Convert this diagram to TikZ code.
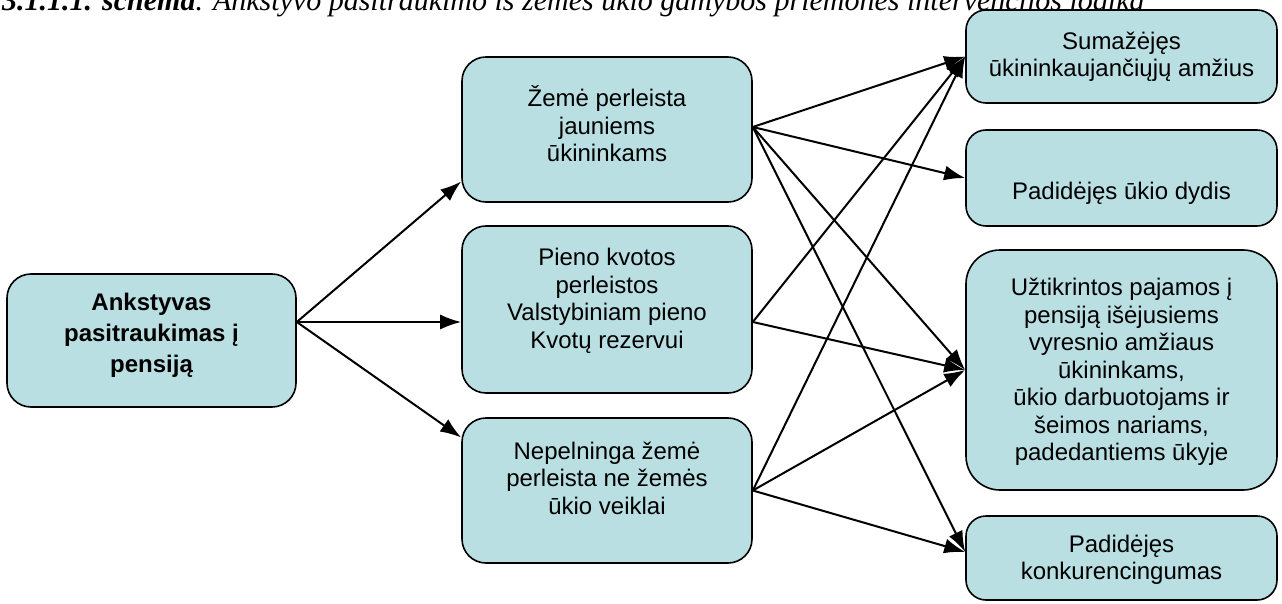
\documentclass[tikz,border=0pt]{standalone}
\usepackage{fontspec}
\setmainfont{Liberation Sans}
\newfontfamily\titlefont{Liberation Serif}
\usetikzlibrary{arrows.meta}
\definecolor{boxfill}{RGB}{185,223,227}
\begin{document}
\begin{tikzpicture}[x=1pt,y=-1pt,
  box/.style={draw=black,line width=1.6pt,fill=boxfill,rounded corners=#1,inner sep=0pt},
  box/.default=24pt,
  txt/.style={align=center,font=\fontsize{24}{27.5}\selectfont,inner sep=0pt},
  arr/.style={line width=2pt,-{Latex[length=21pt,width=15pt]}},
  line join=round]
\useasboundingbox (0,0) rectangle (1282,604);

% caption, partly above the page edge
\node[anchor=base west,inner sep=0pt,font=\titlefont\fontsize{30}{33}\selectfont\itshape] (title) at (2,10.5)
  {\textbf{3.1.1.1. schema}. Ankstyvo pasitraukimo iš žemės ūkio gamybos priemonės intervencijos logika};

% boxes
\node[box,minimum width=289pt,minimum height=133pt] (L) at (151.5,340.5) {};
\node[box,minimum width=290pt,minimum height=145pt] (M1) at (607,129.5) {};
\node[box,minimum width=290pt,minimum height=167pt] (M2) at (607,309.5) {};
\node[box,minimum width=290pt,minimum height=145pt] (M3) at (607,490.5) {};
\node[box=20pt,minimum width=311pt,minimum height=93pt] (R1) at (1121.5,56.5) {};
\node[box=20pt,minimum width=311pt,minimum height=96pt] (R2) at (1121.5,178) {};
\node[box=34pt,minimum width=311pt,minimum height=240pt] (R3) at (1121.5,370) {};
\node[box=20pt,minimum width=311pt,minimum height=84pt] (R4) at (1121.5,558) {};

% texts
\node[txt,font=\fontsize{24}{31}\selectfont\bfseries] (tL) at (151.5,335) {Ankstyvas\\pasitraukimas į\\pensiją};
\node[txt] (t1) at (607,124) {Žemė perleista\\jauniems\\ūkininkams};
\node[txt] (t2) at (607,301) {Pieno kvotos\\perleistos\\Valstybiniam pieno\\Kvotų rezervui};
\node[txt] (t3) at (607,478) {Nepelninga žemė\\perleista ne žemės\\ūkio veiklai};
\node[txt] (r1) at (1121.5,57) {Sumažėjęs\\ūkininkaujančiųjų amžius};
\node[txt] (r2) at (1121.5,193) {Padidėjęs ūkio dydis};
\node[txt] (r3) at (1121.5,372) {Užtikrintos pajamos į\\pensiją išėjusiems\\vyresnio amžiaus\\ūkininkams,\\ūkio darbuotojams ir\\šeimos nariams,\\padedantiems ūkyje};
\node[txt] (r4) at (1121.5,560) {Padidėjęs\\konkurencingumas};

% connectors from the left box
\coordinate (Ls) at ([yshift=18.5pt]L.east);
\draw[arr] (Ls) -- ([yshift=-52pt]M1.west);
\draw[arr] (Ls) -- ([yshift=-12.5pt]M2.west);
\draw[arr] (Ls) -- ([yshift=53pt]M3.west);

% connectors to the outcomes
\coordinate (S1) at ([yshift=2.5pt]M1.east);
\coordinate (S2) at ([yshift=-12.5pt]M2.east);
\coordinate (S3) at (M3.east);
\draw[arr] (S1) -- (R1.west);
\draw[arr] (S1) -- (R2.west);
\draw[arr] (S1) -- (R3.west);
\draw[arr] (S1) -- ([yshift=6pt]R4.west);
\draw[arr] (S2) -- (R1.west);
\draw[arr] (S2) -- (R3.west);
\draw[arr] (S3) -- (R1.west);
\draw[arr] (S3) -- (R3.west);
\draw[arr] (S3) -- ([yshift=6pt]R4.west);
\end{tikzpicture}
\end{document}
